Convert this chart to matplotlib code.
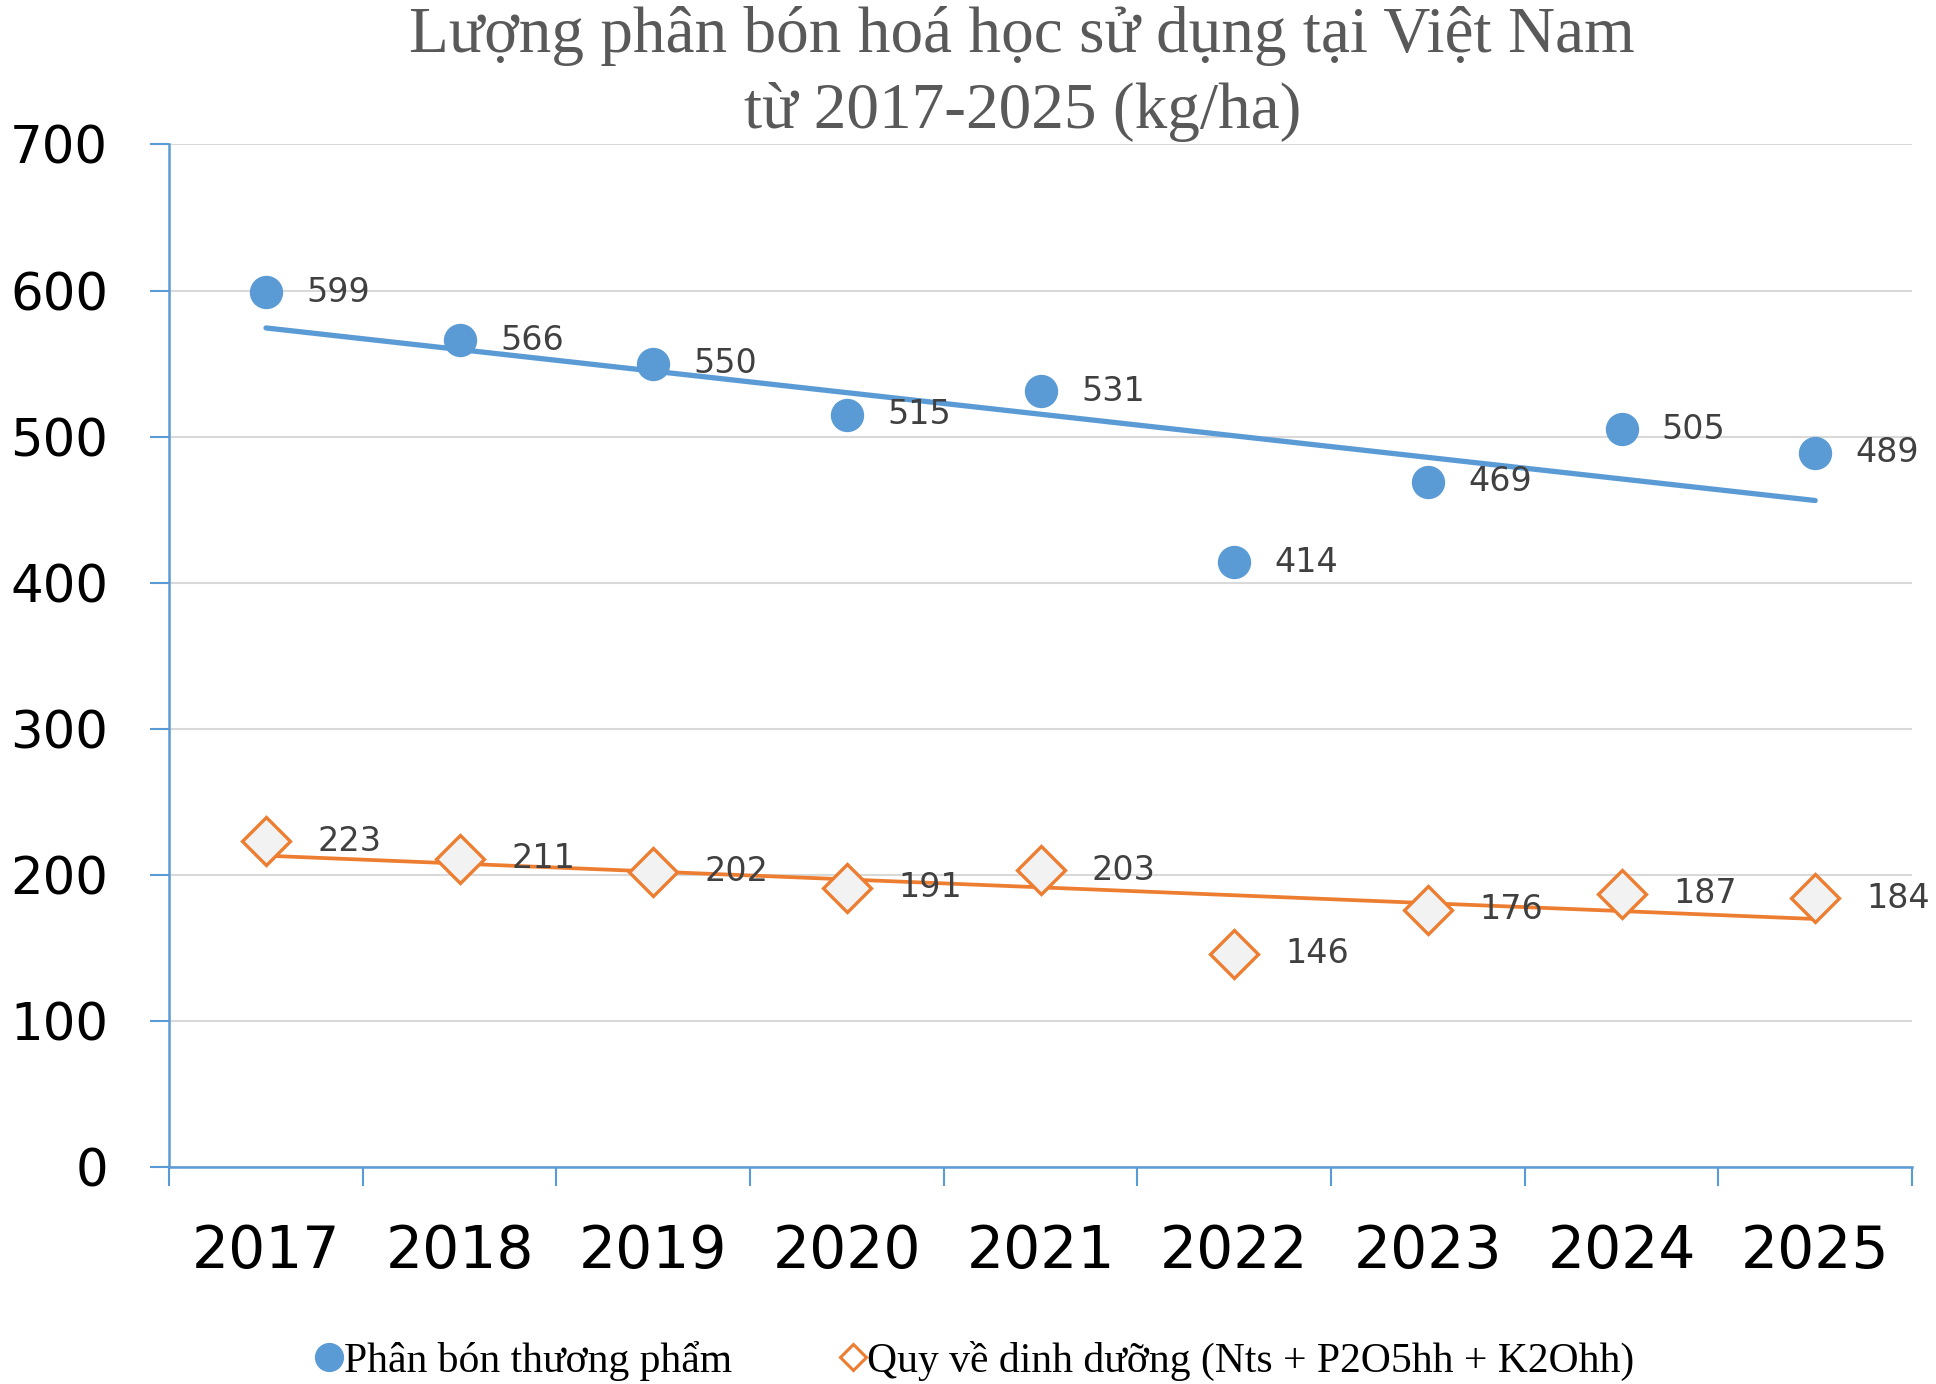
import numpy as np
import matplotlib
matplotlib.use("Agg")
import matplotlib.pyplot as plt
from matplotlib.lines import Line2D

years = ["2017", "2018", "2019", "2020", "2021", "2022", "2023", "2024", "2025"]
thuong_pham = [599, 566, 550, 515, 531, 414, 469, 505, 489]
dinh_duong = [223, 211, 202, 191, 203, 146, 176, 187, 184]
yticks = [0, 100, 200, 300, 400, 500, 600, 700]

title1 = "Lượng phân bón hoá học sử dụng tại Việt Nam"
title2 = "từ 2017-2025 (kg/ha)"
leg1 = "Phân bón thương phẩm"
leg2 = "Quy về dinh dưỡng (Nts + P2O5hh + K2Ohh)"

BLUE = "#5B9BD5"
ORANGE = "#ED7D31"
GRID = "#D9D9D9"
LABEL = "#404040"

fig = plt.figure(figsize=(19.36, 13.84), dpi=100)
ax = fig.add_axes([0.0874, 0.1568, 0.9002, 0.7388])

x = np.arange(len(years)) + 0.5
xi = np.arange(len(years))

# linear trendlines fitted on the data
for vals, col, lw in [(thuong_pham, BLUE, 3.8), (dinh_duong, ORANGE, 2.7)]:
    k, b = np.polyfit(xi, vals, 1)
    ax.plot([x[0], x[-1]], [b, b + k * xi[-1]], color=col, lw=lw, zorder=3,
            solid_capstyle="round")

ax.plot(x, thuong_pham, "o", ms=23, color=BLUE, mec=BLUE, zorder=4, ls="none")
ax.plot(x, dinh_duong, "D", ms=24, mfc="#F2F2F2", mec=ORANGE, mew=2.4, zorder=4, ls="none")

for xx, v in zip(x, thuong_pham):
    ax.annotate(str(v), (xx, v), xytext=(29, 0), textcoords="offset points",
                ha="left", va="center", fontsize=24, color=LABEL, zorder=5)
for xx, v in zip(x, dinh_duong):
    ax.annotate(str(v), (xx, v), xytext=(37, 0), textcoords="offset points",
                ha="left", va="center", fontsize=24, color=LABEL, zorder=5)

ax.set_xlim(0, len(years))
ax.set_ylim(0, 700)
ax.set_yticks(yticks)
ax.set_yticklabels([str(t) for t in yticks])
ax.set_xticks(np.arange(len(years) + 1))
ax.set_xticklabels([])
ax.set_xticks(x, minor=True)
ax.set_xticklabels(years, minor=True)
ax.tick_params(axis="x", which="major", length=14, width=1.5, color=BLUE, direction="out")
ax.tick_params(axis="x", which="minor", length=0, pad=40, labelsize=42, labelcolor="black")
ax.tick_params(axis="y", length=14, width=1.5, color=BLUE, direction="out", pad=30,
               labelsize=37, labelcolor="black")
ax.grid(axis="y", color=GRID, lw=1.5, zorder=0)
ax.set_axisbelow(True)
for s in ["top", "right"]:
    ax.spines[s].set_visible(False)
for s in ["left", "bottom"]:
    ax.spines[s].set_color(BLUE)
    ax.spines[s].set_linewidth(1.8)

serif = ["Liberation Serif", "DejaVu Serif"]
fig.text(0.528, 1 - 36 / 1384, title1, ha="center", va="center", fontsize=47,
         color="#595959", family=serif)
fig.text(0.528, 1 - 112 / 1384, title2, ha="center", va="center", fontsize=47,
         color="#595959", family=serif)

handles = [Line2D([], [], marker="o", ls="none", ms=20, color=BLUE),
           Line2D([], [], marker="D", ls="none", ms=13, mfc="white", mec=ORANGE, mew=2.2)]
leg = fig.legend(handles, [leg1, leg2], loc="center", bbox_to_anchor=(0.504, 1 - 1361 / 1384),
                 ncol=2, frameon=False, handlelength=0.6, handletextpad=0.05,
                 columnspacing=2.6, prop={"family": serif, "size": 30})

fig.savefig("out.png", dpi=100, facecolor="white")
